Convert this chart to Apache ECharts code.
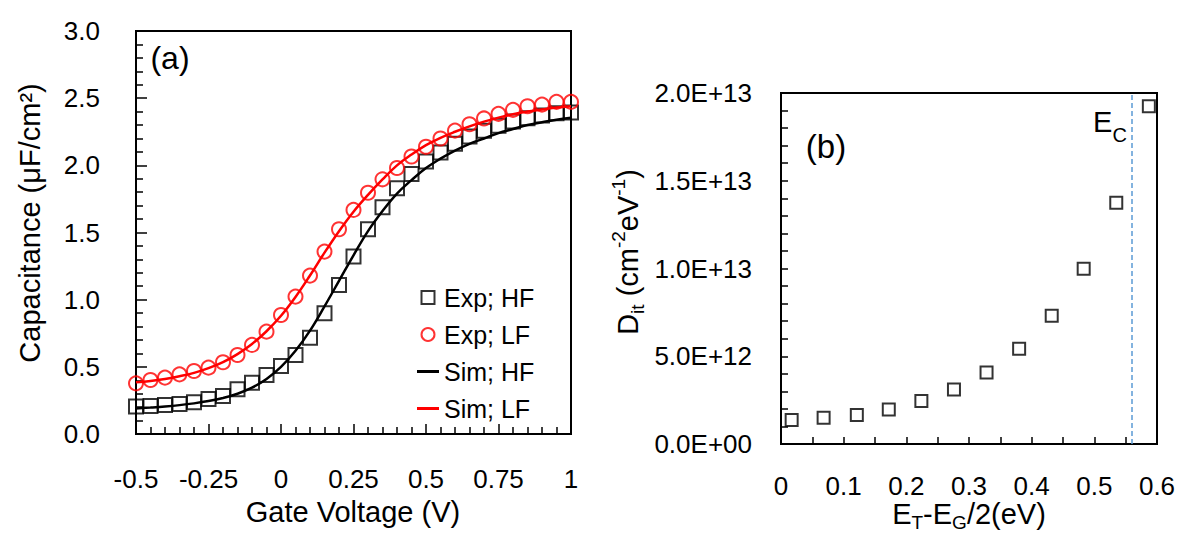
<!DOCTYPE html>
<html>
<head>
<meta charset="utf-8">
<script src="https://cdn.jsdelivr.net/npm/echarts@6/dist/echarts.min.js"></script>
<style>
  html, body { margin: 0; padding: 0; background: #fff; }
  #chart { width: 1181px; height: 535px; }
</style>
</head>
<body>
<div id="chart"></div>
<script>
// ---- Panel (a): capacitance–voltage curves ----
const gateVoltage = [-0.5, -0.45, -0.4, -0.35, -0.3, -0.25, -0.2, -0.15, -0.1, -0.05, 0,
  0.05, 0.1, 0.15, 0.2, 0.25, 0.3, 0.35, 0.4, 0.45, 0.5,
  0.55, 0.6, 0.65, 0.7, 0.75, 0.8, 0.85, 0.9, 0.95, 1.0];
const expHF = [0.204, 0.209, 0.216, 0.223, 0.236, 0.261, 0.283, 0.333, 0.382, 0.439, 0.506,
  0.588, 0.717, 0.899, 1.110, 1.321, 1.524, 1.688, 1.830, 1.936, 2.028,
  2.095, 2.160, 2.214, 2.257, 2.294, 2.326, 2.351, 2.371, 2.388, 2.393];
const expLF = [0.377, 0.402, 0.420, 0.444, 0.469, 0.494, 0.534, 0.588, 0.663, 0.762, 0.886,
  1.023, 1.179, 1.358, 1.524, 1.668, 1.796, 1.896, 1.980, 2.066, 2.138,
  2.200, 2.258, 2.306, 2.349, 2.383, 2.413, 2.440, 2.452, 2.472, 2.472];
const simHF = [0.190, 0.197, 0.205, 0.215, 0.228, 0.245, 0.268, 0.300, 0.345, 0.410, 0.500,
  0.620, 0.770, 0.950, 1.140, 1.330, 1.510, 1.660, 1.790, 1.890, 1.980,
  2.050, 2.110, 2.160, 2.200, 2.240, 2.270, 2.300, 2.320, 2.340, 2.355];
const simLF = [0.385, 0.395, 0.410, 0.430, 0.455, 0.490, 0.535, 0.595, 0.670, 0.765, 0.880,
  1.020, 1.180, 1.350, 1.510, 1.655, 1.780, 1.895, 2.000, 2.080, 2.150,
  2.205, 2.250, 2.290, 2.325, 2.355, 2.380, 2.400, 2.415, 2.430, 2.440];
const legendNames = ['Exp; HF', 'Exp; LF', 'Sim; HF', 'Sim; LF'];

// ---- Panel (b): interface trap density vs trap energy ----
const trapEnergy = [0.017, 0.068, 0.121, 0.172, 0.224, 0.276, 0.328, 0.380, 0.432, 0.483, 0.535, 0.587];
const trapDensity = [1.37e12, 1.50e12, 1.65e12, 1.97e12, 2.45e12, 3.11e12, 4.08e12, 5.43e12,
  7.31e12, 9.98e12, 1.374e13, 1.924e13];
const conductionBandEdge = 0.557;

const FONT = '"Liberation Sans", Arial, Helvetica, sans-serif';
const zip = (xs, ys) => xs.map((x, i) => [x, ys[i]]);

const sciLabel = v => {
  if (v === 0) return '0.0E+00';
  const e = Math.floor(Math.log10(v) + 1e-9);
  const m = v / Math.pow(10, e);
  return m.toFixed(1) + 'E+' + String(e).padStart(2, '0');
};

const tickStyle = { color: '#000', width: 1.5 };
const labelBase = { color: '#000', fontFamily: FONT, fontSize: 26 };
const noLine = { show: false, onZero: false };

const hollow = color => ({ color: 'transparent', borderColor: color, borderWidth: 2 });
const SQUARE = 'path://M0 0H10V10H0Z';
const BAR = 'path://M0 0H22V3H0Z';

const chart = echarts.init(document.getElementById('chart'), null, { renderer: 'svg' });

chart.setOption({
  animation: false,
  backgroundColor: '#fff',
  textStyle: { fontFamily: FONT, color: '#000' },
  grid: [
    { left: 136, top: 31, width: 435, height: 403, show: true, borderColor: '#000', borderWidth: 2,
      backgroundColor: 'transparent', containLabel: false, outerBoundsMode: 'none' },
    { left: 781, top: 93, width: 376, height: 351, show: true, borderColor: '#000', borderWidth: 2,
      backgroundColor: 'transparent', containLabel: false, outerBoundsMode: 'none' }
  ],
  xAxis: [
    { type: 'value', gridIndex: 0, min: -0.5, max: 1, interval: 0.25,
      axisLine: noLine, splitLine: { show: false }, minorSplitLine: { show: false },
      axisTick: { show: true, inside: true, length: 10, lineStyle: tickStyle },
      minorTick: { show: true, splitNumber: 5, length: 7, lineStyle: tickStyle },
      axisLabel: Object.assign({ margin: 32, formatter: v => String(+v.toFixed(2)) }, labelBase) },
    { type: 'value', gridIndex: 1, min: 0, max: 0.6, interval: 0.1,
      axisLine: noLine, splitLine: { show: false }, minorSplitLine: { show: false },
      axisTick: { show: true, inside: true, length: 7, lineStyle: tickStyle },
      minorTick: { show: true, splitNumber: 2, length: 7, lineStyle: tickStyle },
      axisLabel: Object.assign({ margin: 29, formatter: v => String(+v.toFixed(1)) }, labelBase) }
  ],
  yAxis: [
    { type: 'value', gridIndex: 0, min: 0, max: 3, interval: 0.5,
      axisLine: noLine, splitLine: { show: false }, minorSplitLine: { show: false },
      axisTick: { show: true, inside: true, length: 11, lineStyle: tickStyle },
      minorTick: { show: true, splitNumber: 5, length: 7, lineStyle: tickStyle },
      axisLabel: Object.assign({ margin: 36, formatter: v => v.toFixed(1) }, labelBase) },
    { type: 'value', gridIndex: 1, min: 0, max: 2e13, interval: 5e12,
      axisLine: noLine, splitLine: { show: false }, minorSplitLine: { show: false },
      axisTick: { show: true, inside: true, length: 7, lineStyle: tickStyle },
      minorTick: { show: true, splitNumber: 5, length: 7, lineStyle: tickStyle },
      axisLabel: Object.assign({ margin: 29, formatter: sciLabel }, labelBase) }
  ],
  legend: {
    data: [
      { name: legendNames[0], icon: SQUARE, itemStyle: hollow('#000') },
      { name: legendNames[1], icon: 'circle', itemStyle: hollow('#ff0000') },
      { name: legendNames[2], icon: BAR, itemStyle: { color: '#000', borderWidth: 0 } },
      { name: legendNames[3], icon: BAR, itemStyle: { color: '#ff0000', borderWidth: 0 } }
    ],
    orient: 'vertical',
    left: 412, top: 279,
    itemWidth: 22, itemHeight: 13, itemGap: 10,
    selectedMode: false,
    textStyle: { color: '#000', fontFamily: FONT, fontSize: 25, lineHeight: 27 }
  },
  series: [
    { name: 'Exp; HF', type: 'scatter', xAxisIndex: 0, yAxisIndex: 0,
      data: zip(gateVoltage, expHF), symbol: 'rect', symbolSize: 14,
      itemStyle: hollow('#000'), z: 3 },
    { name: 'Exp; LF', type: 'scatter', xAxisIndex: 0, yAxisIndex: 0,
      data: zip(gateVoltage, expLF), symbol: 'circle', symbolSize: 14,
      itemStyle: hollow('#ff0000'), z: 3 },
    { name: 'Sim; HF', type: 'line', xAxisIndex: 0, yAxisIndex: 0,
      data: zip(gateVoltage, simHF), smooth: 0.4, symbol: 'none', showSymbol: false,
      lineStyle: { color: '#000', width: 2.5 }, itemStyle: { color: '#000' }, z: 4 },
    { name: 'Sim; LF', type: 'line', xAxisIndex: 0, yAxisIndex: 0,
      data: zip(gateVoltage, simLF), smooth: 0.4, symbol: 'none', showSymbol: false,
      lineStyle: { color: '#ff0000', width: 2.5 }, itemStyle: { color: '#ff0000' }, z: 4 },
    { name: 'Dit', type: 'scatter', xAxisIndex: 1, yAxisIndex: 1,
      data: zip(trapEnergy, trapDensity), symbol: 'rect', symbolSize: 12,
      itemStyle: hollow('#000'),
      markLine: {
        silent: true, symbol: 'none', animation: false,
        label: { show: false },
        lineStyle: { color: '#5b9bd5', type: [5, 3], width: 1.5 },
        data: [{ xAxis: conductionBandEdge }]
      } }
  ],
  graphic: [
    { type: 'text', x: 170, y: 58, style: { text: '(a)', font: '32px ' + FONT, fill: '#000', align: 'center', verticalAlign: 'middle' } },
    { type: 'text', x: 826, y: 146, style: { text: '(b)', font: '33px ' + FONT, fill: '#000', align: 'center', verticalAlign: 'middle' } },
    { type: 'text', x: 1110, y: 122, style: {
        text: '{n|E}{s|C}', align: 'center', verticalAlign: 'middle', fill: '#000',
        rich: { n: { fontSize: 29, lineHeight: 30, fontFamily: FONT },
                s: { fontSize: 20, lineHeight: 46, fontFamily: FONT, verticalAlign: 'bottom' } } } },
    { type: 'text', x: 30, y: 223, rotation: Math.PI / 2, style: {
        text: 'Capacitance (μF/cm²)', font: '29px ' + FONT, fill: '#000', align: 'center', verticalAlign: 'middle' } },
    { type: 'text', x: 353, y: 512, style: {
        text: 'Gate Voltage (V)', font: '29px ' + FONT, fill: '#000', align: 'center', verticalAlign: 'middle' } },
    { type: 'text', x: 628, y: 252, rotation: Math.PI / 2, style: {
        text: '{n|D}{b|it}{n| (cm}{t|-2}{n|eV}{t|-1}{n|)}', align: 'center', verticalAlign: 'middle', fill: '#000',
        rich: { n: { fontSize: 29, lineHeight: 34, fontFamily: FONT },
                b: { fontSize: 19, lineHeight: 38, fontFamily: FONT, verticalAlign: 'bottom' },
                t: { fontSize: 19, lineHeight: 16, fontFamily: FONT, verticalAlign: 'top' } } } },
    { type: 'text', x: 969, y: 514, style: {
        text: '{n|E}{b|T}{n|-E}{b|G}{n|/2(eV)}', align: 'center', verticalAlign: 'middle', fill: '#000',
        rich: { n: { fontSize: 29, lineHeight: 32, fontFamily: FONT },
                b: { fontSize: 19, lineHeight: 36, fontFamily: FONT, verticalAlign: 'bottom' } } } }
  ]
});
</script>
</body>
</html>
